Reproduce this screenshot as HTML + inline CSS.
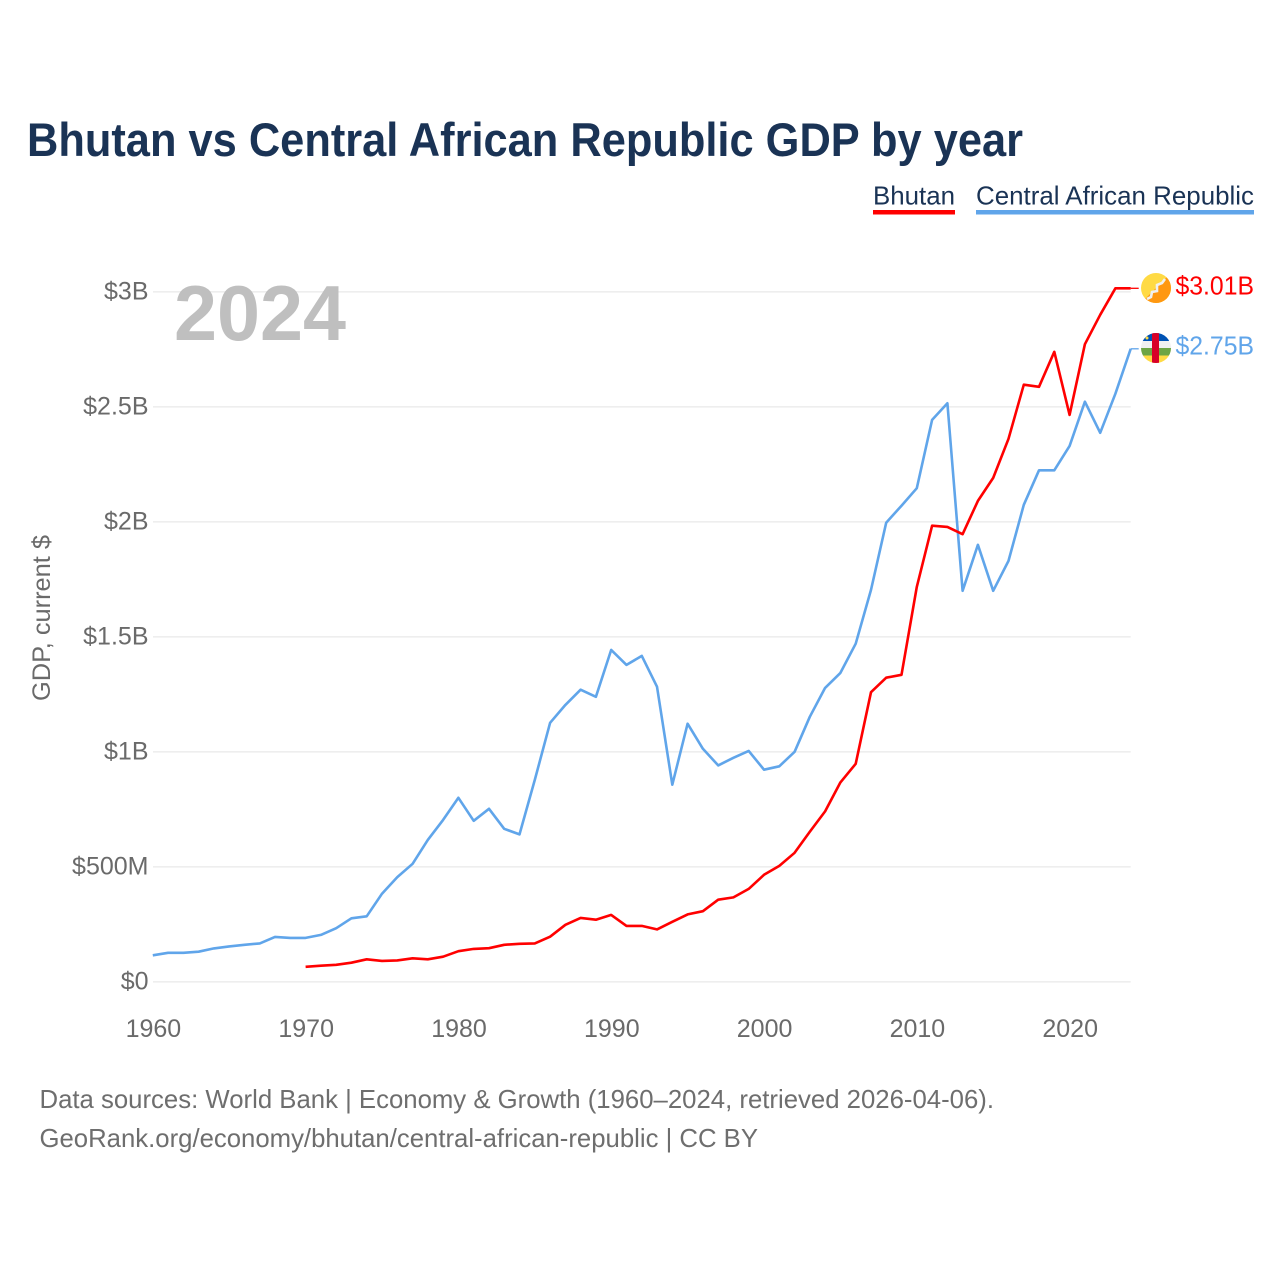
<!DOCTYPE html>
<html lang="en">
<head>
<meta charset="utf-8">
<title>Bhutan vs Central African Republic GDP by year</title>
<style>
html,body{margin:0;padding:0;background:#fff;width:1280px;height:1280px;overflow:hidden}
svg{display:block}
text{font-family:"Liberation Sans",sans-serif}
.tick{font-size:25px;fill:#6a6a6a}
.legend{font-size:26px;fill:#1a3355}
.foot{font-size:26px;fill:#6e6e6e}
</style>
</head>
<body>
<svg id="chart" width="1280" height="1280" viewBox="0 0 1280 1280" xmlns="http://www.w3.org/2000/svg">
  <defs>
    <clipPath id="flag-clip-a"><circle cx="1156" cy="288" r="15"/></clipPath>
    <clipPath id="flag-clip-b"><circle cx="1156" cy="348" r="15"/></clipPath>
  </defs>

  <text x="27" y="156" font-size="47" font-weight="700" fill="#1a3355" textLength="996" lengthAdjust="spacingAndGlyphs">Bhutan vs Central African Republic GDP by year</text>

  <g>
    <text class="legend" x="873" y="204.5" textLength="82" lengthAdjust="spacingAndGlyphs">Bhutan</text>
    <rect x="873" y="210" width="82" height="4.5" fill="#ff0000"/>
  </g>
  <g>
    <text class="legend" x="976" y="204.5" textLength="278" lengthAdjust="spacingAndGlyphs">Central African Republic</text>
    <rect x="976" y="210" width="278" height="4.5" fill="#60a5ea"/>
  </g>

  <g id="grid"></g>
  <g id="yticks"></g>
  <g id="xticks"></g>

  <text x="50" y="618" class="tick" text-anchor="middle" transform="rotate(-90 50 618)" textLength="166" lengthAdjust="spacingAndGlyphs">GDP, current $</text>

  <text x="174" y="340" font-size="78" font-weight="700" fill="#bfbfbf" textLength="172" lengthAdjust="spacingAndGlyphs">2024</text>

  <g id="series"></g>

  <g clip-path="url(#flag-clip-a)">
    <rect x="1141" y="273" width="30" height="30" fill="#ffda44"/>
    <polygon points="1171,273 1171,303 1141,303" fill="#ff9811"/>
    <path d="M1147,299 L1151,297 L1152,292 L1157,291 L1157,285 L1162,283 L1165,279" fill="none" stroke="#f0f0f0" stroke-width="2.6"/>
  </g>
  <g clip-path="url(#flag-clip-b)">
    <rect x="1141" y="333" width="30" height="8" fill="#0052b4"/>
    <rect x="1141" y="341" width="30" height="7" fill="#f0f0f0"/>
    <rect x="1141" y="348" width="30" height="7.5" fill="#6da544"/>
    <rect x="1141" y="355.5" width="30" height="8" fill="#ffda44"/>
    <rect x="1152" y="333" width="7" height="30" fill="#d80027"/>
    <circle cx="1147" cy="338" r="1.5" fill="#ffda44"/>
  </g>

  <text x="1175.5" y="294.5" font-size="26" fill="#ff0000" textLength="78.5" lengthAdjust="spacingAndGlyphs">$3.01B</text>
  <text x="1175.5" y="354.5" font-size="26" fill="#60a5ea" textLength="78.5" lengthAdjust="spacingAndGlyphs">$2.75B</text>

  <text class="foot" x="39.5" y="1108" textLength="954.5" lengthAdjust="spacingAndGlyphs">Data sources: World Bank | Economy &amp; Growth (1960–2024, retrieved 2026-04-06).</text>
  <text class="foot" x="39.5" y="1147" textLength="718.5" lengthAdjust="spacingAndGlyphs">GeoRank.org/economy/bhutan/central-african-republic | CC BY</text>
</svg>
<script>
const years = [1960,1961,1962,1963,1964,1965,1966,1967,1968,1969,1970,1971,1972,1973,1974,1975,1976,1977,1978,1979,1980,1981,1982,1983,1984,1985,1986,1987,1988,1989,1990,1991,1992,1993,1994,1995,1996,1997,1998,1999,2000,2001,2002,2003,2004,2005,2006,2007,2008,2009,2010,2011,2012,2013,2014,2015,2016,2017,2018,2019,2020,2021,2022,2023,2024];
const carGdp = [0.115,0.126,0.126,0.131,0.145,0.154,0.161,0.167,0.195,0.191,0.191,0.204,0.233,0.276,0.285,0.383,0.455,0.513,0.617,0.704,0.800,0.700,0.752,0.665,0.641,0.878,1.126,1.204,1.270,1.239,1.443,1.378,1.417,1.283,0.857,1.122,1.013,0.941,0.974,1.004,0.922,0.937,1.000,1.152,1.278,1.343,1.470,1.704,1.996,2.070,2.146,2.443,2.515,1.700,1.900,1.700,1.830,2.074,2.224,2.224,2.330,2.522,2.387,2.557,2.752];
const bhutanGdp = [null,null,null,null,null,null,null,null,null,null,0.065,0.070,0.074,0.083,0.098,0.091,0.093,0.102,0.098,0.109,0.133,0.143,0.146,0.161,0.165,0.167,0.196,0.248,0.278,0.270,0.291,0.243,0.243,0.228,0.261,0.293,0.307,0.357,0.367,0.404,0.465,0.504,0.561,0.652,0.741,0.867,0.948,1.259,1.322,1.335,1.717,1.983,1.978,1.946,2.091,2.191,2.361,2.596,2.587,2.739,2.465,2.772,2.900,3.015,3.015];
const yTickValues = [0,0.5,1,1.5,2,2.5,3];
const yTickLabels = ["$0","$500M","$1B","$1.5B","$2B","$2.5B","$3B"];
const xTickValues = [1960,1970,1980,1990,2000,2010,2020];

const NS = "http://www.w3.org/2000/svg";
const xScale = function (year) { return 152.8 + (year - 1960) * 15.28; };
const yScale = function (value) { return 981.8 - value * 230; };
const xEnd = xScale(2024);

function make(tag, parent) {
  const el = document.createElementNS(NS, tag);
  parent.appendChild(el);
  return el;
}

const grid = document.getElementById("grid");
const yticks = document.getElementById("yticks");
const xticks = document.getElementById("xticks");
const series = document.getElementById("series");

yTickValues.forEach(function (v, i) {
  const line = make("line", grid);
  
  
  line.setAttribute("x1", 153);
  line.setAttribute("x2", xEnd);
  line.setAttribute("y1", yScale(v));
  line.setAttribute("y2", yScale(v));
  line.setAttribute("stroke", "#eeeeee");
  line.setAttribute("stroke-width", 1.6);

  const label = make("text", yticks);
  
  
  label.setAttribute("class", "tick");
  label.setAttribute("x", 148.5);
  label.setAttribute("y", yScale(v) + 7.7);
  label.setAttribute("text-anchor", "end");
  label.textContent = yTickLabels[i];
});

xTickValues.forEach(function (year) {
  const label = make("text", xticks);
  
  
  label.setAttribute("class", "tick");
  label.setAttribute("x", xScale(year) + 0.6);
  label.setAttribute("y", 1037);
  label.setAttribute("text-anchor", "middle");
  label.textContent = String(year);
});

function buildPath(values) {
  let d = "";
  values.forEach(function (v, i) {
    if (v === null) return;
    d += (d === "" ? "M" : "L") + xScale(years[i]).toFixed(1) + "," + yScale(v).toFixed(1);
  });
  return d;
}

function connectorPath(values) {
  const y = yScale(values[values.length - 1]).toFixed(1);
  return "M" + xEnd.toFixed(1) + "," + y + "L" + (xEnd + 8).toFixed(1) + "," + y;
}

const carLine = make("path", series);


carLine.setAttribute("d", buildPath(carGdp));
carLine.setAttribute("fill", "none");
carLine.setAttribute("stroke", "#60a5ea");
carLine.setAttribute("stroke-width", 2.6);
carLine.setAttribute("stroke-linejoin", "round");

const carConnector = make("path", series);


carConnector.setAttribute("d", connectorPath(carGdp));
carConnector.setAttribute("fill", "none");
carConnector.setAttribute("stroke", "#60a5ea");
carConnector.setAttribute("stroke-width", 1.3);

const bhutanLine = make("path", series);


bhutanLine.setAttribute("d", buildPath(bhutanGdp));
bhutanLine.setAttribute("fill", "none");
bhutanLine.setAttribute("stroke", "#ff0000");
bhutanLine.setAttribute("stroke-width", 2.6);
bhutanLine.setAttribute("stroke-linejoin", "round");

const bhutanConnector = make("path", series);


bhutanConnector.setAttribute("d", connectorPath(bhutanGdp));
bhutanConnector.setAttribute("fill", "none");
bhutanConnector.setAttribute("stroke", "#ff0000");
bhutanConnector.setAttribute("stroke-width", 1.3);
</script>
</body>
</html>
